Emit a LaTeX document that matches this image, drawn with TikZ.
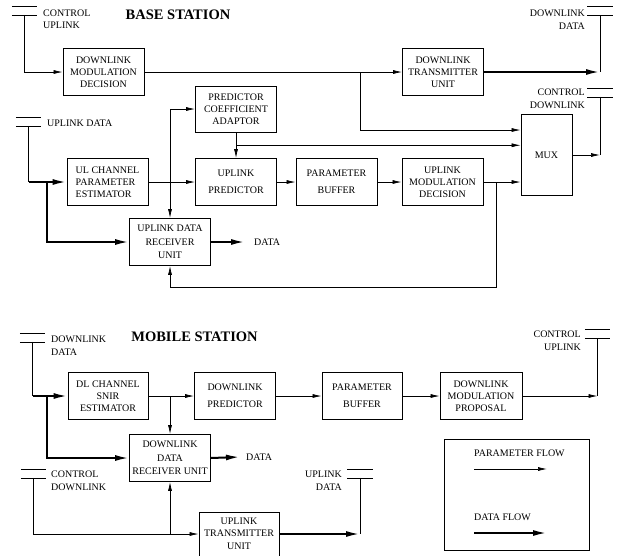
\documentclass[tikz,border=0pt]{standalone}
\usepackage{fontspec}
\setmainfont{Liberation Serif}
\usetikzlibrary{arrows.meta, calc}

\begin{document}
\begin{tikzpicture}[x=1pt, y=-1pt,
    blk/.style={draw, line width=0.8pt, minimum width=81pt, minimum height=47pt,
        inner sep=0pt, align=center, font=\fontsize{10}{12}\selectfont},
    lbl/.style={inner sep=0pt, font=\fontsize{10}{12.5}\selectfont},
    title/.style={inner sep=0pt, font=\fontsize{14.5}{16}\selectfont\bfseries},
    port/.style={minimum width=25pt, minimum height=8.5pt, inner sep=0pt},
    wire/.style={line width=0.7pt},
    flow/.style={line width=0.7pt, -{Latex[length=9pt,width=4pt]}},
    dataflow/.style={line width=2pt, -{Latex[length=14pt,width=6pt]}}]
            \useasboundingbox (0,0) rectangle (618,555);

            % 1. Base station blocks
            \node[title] (bs) at (178,15) {BASE STATION};
            \node[blk] (DMD) at (103.5,72) {DOWNLINK\\MODULATION\\DECISION};
            \node[blk] (DTU) at (443,72) {DOWNLINK\\TRANSMITTER\\UNIT};
            \node[blk, minimum height=46pt] (PCA) at (236,109) {PREDICTOR\\COEFFICIENT\\ADAPTOR};
            \node[blk, align=left] (ULCPE) at (107.5,182) {UL CHANNEL\\PARAMETER\\ESTIMATOR};
            \node[blk] (UP) at (236,182) {UPLINK\\[5pt]PREDICTOR};
            \node[blk] (PB) at (336.5,182) {PARAMETER\\[5pt]BUFFER};
            \node[blk] (UMD) at (442.5,182) {UPLINK\\MODULATION\\DECISION};
            \node[blk, minimum width=51pt, minimum height=81pt] (MUX) at (546.5,155) {MUX};
            \node[blk] (URU) at (170,242) {UPLINK DATA\\[1.5pt]RECEIVER\\[1.5pt]UNIT};
            \node[lbl, anchor=west] (dout1) at (254,242) {DATA};

            % 2. Mobile station blocks
            \node[title] (ms) at (194.5,337) {MOBILE STATION};
            \node[blk, minimum width=80pt] (DLCSE) at (108,396) {DL CHANNEL\\SNIR\\ESTIMATOR};
            \node[blk] (DP) at (235,396) {DOWNLINK\\[5pt]PREDICTOR};
            \node[blk, minimum width=80pt] (PB2) at (362,396) {PARAMETER\\[5pt]BUFFER};
            \node[blk, minimum width=82pt] (DMP) at (481,396) {DOWNLINK\\MODULATION\\PROPOSAL};
            \node[blk] (DDRU) at (170,458) {DOWNLINK\\[1.5pt]DATA\\[1.5pt]RECEIVER UNIT};
            \node[lbl, anchor=west] (dout2) at (246,457) {DATA};
            \node[blk, minimum width=80pt, minimum height=44pt] (UTU) at (239,534) {UPLINK\\TRANSMITTER\\[1pt]UNIT};

            % 3. Ports (two bars) and their labels
            \node[port] (cub) at (24.5,10.5) {};
            \node[port] (udb) at (28.5,121.5) {};
            \node[port] (ddb) at (600,11) {};
            \node[port] (cdb) at (600,92.5) {};
            \node[port] (ddm) at (32.5,337.5) {};
            \node[port] (cum) at (597.5,334) {};
            \node[port] (cdm) at (33.5,473.5) {};
            \node[port] (udm) at (360,473.5) {};
            \foreach \p in {cub,udb,ddb,cdb,ddm,cum,cdm,udm} {
                \draw[wire] (\p.north west) -- (\p.north east)
                    (\p.south west) -- (\p.south east);
            }
            \node[lbl, anchor=north west, align=left] (cubt) at (43,9.5) {CONTROL\\UPLINK};
            \node[lbl, anchor=north west, align=left] (udbt) at (47,120) {UPLINK DATA};
            \node[lbl, anchor=north east, align=right] (ddbt) at (585,10) {DOWNLINK\\DATA};
            \node[lbl, anchor=north east, align=right] (cdbt) at (585,89) {CONTROL\\DOWNLINK};
            \node[lbl, anchor=north west, align=left] (ddmt) at (51,336) {DOWNLINK\\DATA};
            \node[lbl, anchor=north east, align=right] (cumt) at (581,331) {CONTROL\\UPLINK};
            \node[lbl, anchor=north west, align=left] (cdmt) at (51,471) {CONTROL\\DOWNLINK};
            \node[lbl, anchor=north east, align=right] (udmt) at (342,471) {UPLINK\\DATA};

            % 4. Base station connectors
            \draw[flow] (cub.south) |- (DMD.west);
            \draw[flow] (DMD.east) -- (DTU.west);
            \coordinate (j1) at (360,72);
            \draw[flow] (j1) |- ([yshift=25pt]MUX.west);
            \coordinate (ddj) at (ddb.south |- DTU.east);
            \draw[wire] (ddb.south) -- (ddj);
            \draw[dataflow] (DTU.east) -- (ddj);
            \coordinate (cdj) at (cdb.south |- MUX.east);
            \draw[wire] (cdb.south) -- (cdj);
            \draw[flow] (MUX.east) -- (cdj);
            \coordinate (j0) at (udb.south |- ULCPE.west);
            \draw[wire] (udb.south) -- (j0);
            \draw[dataflow] (j0) -- (ULCPE.west);
            \coordinate (j0b) at (47,182);
            \draw[dataflow] (j0b) |- (URU.west);
            \draw[flow] (ULCPE.east) -- (UP.west);
            \coordinate (j2) at (URU.north |- ULCPE.east);
            \draw[flow] (j2) |- (PCA.west);
            \draw[flow] (j2) -- (URU.north);
            \draw[flow] (PCA.south) -- (UP.north);
            \coordinate (j3) at ($(PCA.south)!0.5!(UP.north)$);
            \draw[flow] (j3) -- (j3 -| MUX.west);
            \draw[flow] (UP.east) -- (PB.west);
            \draw[flow] (PB.east) -- (UMD.west);
            \draw[flow] (UMD.east) -- (UMD.east -| MUX.west);
            \coordinate (j4) at (496,182);
            \coordinate (fb) at (496,287);
            \draw[flow] (j4) -- (fb) -| (URU.south);
            \draw[dataflow] (URU.east) -- ([xshift=-9pt]dout1.west);

            % 5. Mobile station connectors
            \coordinate (k0) at (ddm.south |- DLCSE.west);
            \draw[wire] (ddm.south) -- (k0);
            \draw[dataflow] (k0) -- (DLCSE.west);
            \coordinate (k0b) at (47,396);
            \draw[dataflow] (k0b) |- (DDRU.west);
            \draw[flow] (DLCSE.east) -- (DP.west);
            \coordinate (k1) at (DDRU.north |- DLCSE.east);
            \draw[flow] (k1) -- (DDRU.north);
            \draw[flow] (DP.east) -- (PB2.west);
            \draw[flow] (PB2.east) -- (DMP.west);
            \coordinate (k2) at (cum.south |- DMP.east);
            \draw[wire] (cum.south) -- (k2);
            \draw[flow] (DMP.east) -- (k2);
            \draw[dataflow] (DDRU.east) -- ([xshift=-6pt]dout2.west);
            \draw[flow] (cdm.south) |- (UTU.west);
            \coordinate (k4) at (DDRU.south |- UTU.west);
            \draw[flow] (k4) -- (DDRU.south);
            \coordinate (k5) at (udm.south |- UTU.east);
            \draw[wire] (udm.south) -- (k5);
            \draw[dataflow] (UTU.east) -- (k5);

            % 6. Legend
            \node[draw, line width=0.7pt, minimum width=145pt, minimum height=111pt] (legend) at (516.5,494.5) {};
            \node[lbl, anchor=west] (pf) at (474,453) {PARAMETER FLOW};
            \coordinate (pfa) at (474,469);
            \coordinate (pfb) at (547,469);
            \draw[flow] (pfa) -- (pfb);
            \node[lbl, anchor=west] (df) at (474,517) {DATA FLOW};
            \coordinate (dfa) at (474,533);
            \coordinate (dfb) at (547,533);
            \draw[dataflow] (dfa) -- (dfb);
        \end{tikzpicture}
\end{document}
